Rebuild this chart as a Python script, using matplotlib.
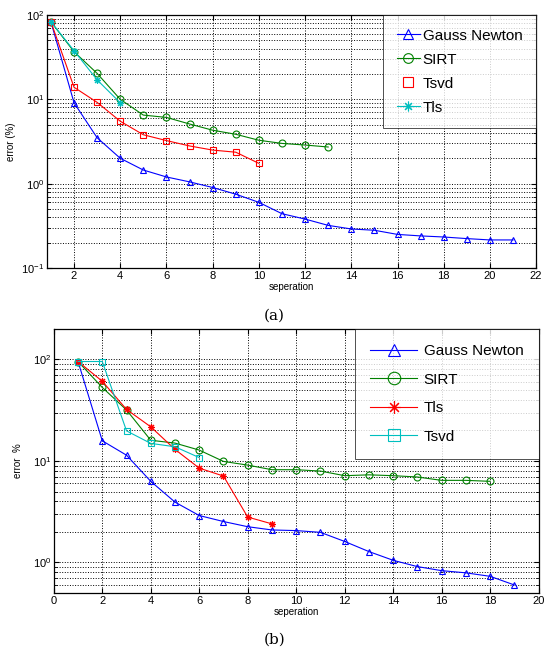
import numpy as np
import matplotlib.pyplot as plt
from matplotlib.ticker import LogLocator, NullFormatter

# ---- data, panel (a)
xa_gn = np.arange(1, 22)
ya_gn = [83, 9.1, 3.5, 2.0, 1.45, 1.2, 1.05, 0.9, 0.75, 0.6, 0.44,
         0.38, 0.32, 0.29, 0.28, 0.25, 0.24, 0.233, 0.223, 0.215, 0.215]
xa_sirt = np.arange(1, 14)
ya_sirt = [83, 36.7, 20.3, 10, 6.5, 6.1, 5.1, 4.3, 3.85, 3.27, 3.0, 2.87, 2.72]
xa_tsvd = np.arange(1, 11)
ya_tsvd = [83, 13.9, 9.2, 5.5, 3.8, 3.24, 2.8, 2.5, 2.36, 1.74]
xa_tls = np.arange(1, 5)
ya_tls = [83, 37.7, 17, 9.1]

# ---- data, panel (b)
xb_gn = np.arange(1, 20)
yb_gn = [95.5, 15.8, 11.4, 6.3, 3.93, 2.9, 2.53, 2.25, 2.09, 2.06, 1.98,
         1.61, 1.28, 1.05, 0.91, 0.83, 0.79, 0.73, 0.60]
xb_sirt = np.arange(1, 19)
yb_sirt = [95.5, 53, 31.8, 16, 15, 12.8, 9.9, 9.1, 8.2, 8.2, 7.95, 7.16,
           7.3, 7.16, 6.95, 6.44, 6.44, 6.3]
xb_tls = np.arange(1, 10)
yb_tls = [95.5, 61, 32.2, 21.7, 13, 8.5, 7.1, 2.8, 2.4]
xb_tsvd = np.arange(1, 7)
yb_tsvd = [95.5, 95.5, 19.8, 14.9, 13.8, 10.8]

blue, green, red, cyan = '#0000ff', '#008000', '#ff0000', '#00bfbf'
star = (8, 2, 0)  # matlab-like asterisk

plt.rcParams['font.family'] = ['Liberation Sans', 'DejaVu Sans']

fig = plt.figure(figsize=(5.49, 6.52), dpi=100)
ax1 = fig.add_axes([0.0856, 0.589, 0.891, 0.388])
ax2 = fig.add_axes([0.098, 0.0905, 0.883, 0.405])

kw = dict(lw=0.8, ms=5, mfc='none', mew=0.8)

ax1.plot(xa_gn, ya_gn, '-^', color=blue, label='Gauss Newton', **kw)
ax1.plot(xa_sirt, ya_sirt, '-o', color=green, label='SIRT', **kw)
ax1.plot(xa_tsvd, ya_tsvd, '-s', color=red, label='Tsvd', **kw)
ax1.plot(xa_tls, ya_tls, '-', marker=star, color=cyan, label='Tls', **kw)
ax1.set_yscale('log')
ax1.set_xlim(0.83, 22)
ax1.set_ylim(0.1, 100)
ax1.set_xticks(np.arange(2, 23, 2))
ax1.set_xlabel('seperation', fontsize=7, labelpad=1)
ax1.set_ylabel('error (%)', fontsize=7, labelpad=4)

ax2.plot(xb_gn, yb_gn, '-^', color=blue, label='Gauss Newton', **kw)
ax2.plot(xb_sirt, yb_sirt, '-o', color=green, label='SIRT', **kw)
ax2.plot(xb_tls, yb_tls, '-', marker=star, color=red, label='Tls', **kw)
ax2.plot(xb_tsvd, yb_tsvd, '-s', color=cyan, label='Tsvd', **kw)
ax2.set_yscale('log')
ax2.set_xlim(0, 20)
ax2.set_ylim(0.5, 200)
ax2.set_xticks(np.arange(0, 21, 2))
ax2.set_xlabel('seperation', fontsize=7, labelpad=1)
ax2.set_ylabel('error  %', fontsize=7, labelpad=7)

for ax in (ax1, ax2):
    ax.yaxis.set_minor_locator(LogLocator(base=10, subs=np.arange(2, 10), numticks=20))
    ax.yaxis.set_minor_formatter(NullFormatter())
    ax.grid(True, which='major', ls=':', color='k', lw=0.7)
    ax.grid(True, which='minor', axis='y', ls=':', color='k', lw=0.7)
    ax.tick_params(which='both', direction='in', top=True, right=True,
                   labelsize=8, pad=2)
    for s in ax.spines.values():
        s.set_linewidth(0.9)

leg1 = ax1.legend(loc='upper right', fontsize=11, frameon=True, fancybox=False,
                  edgecolor='k', borderaxespad=0, handlelength=1.5,
                  labelspacing=0.65, borderpad=0.9, handletextpad=0.2,
                  markerscale=1.4)
leg1.get_lines()[2].set_linestyle('none')
leg2 = ax2.legend(loc='upper right', fontsize=11, frameon=True, fancybox=False,
                  edgecolor='k', borderaxespad=0, handlelength=3.1,
                  labelspacing=0.95, borderpad=1.0, handletextpad=0.4,
                  markerscale=1.8)
for leg in (leg1, leg2):
    leg.get_frame().set_linewidth(0.6)

fig.text(0.5, 1 - 316 / 652, '(a)', ha='center', va='center',
         fontsize=11, family='DejaVu Serif')
fig.text(0.5, 1 - 640 / 652, '(b)', ha='center', va='center',
         fontsize=11, family='DejaVu Serif')

fig.savefig('out.png', dpi=100)
